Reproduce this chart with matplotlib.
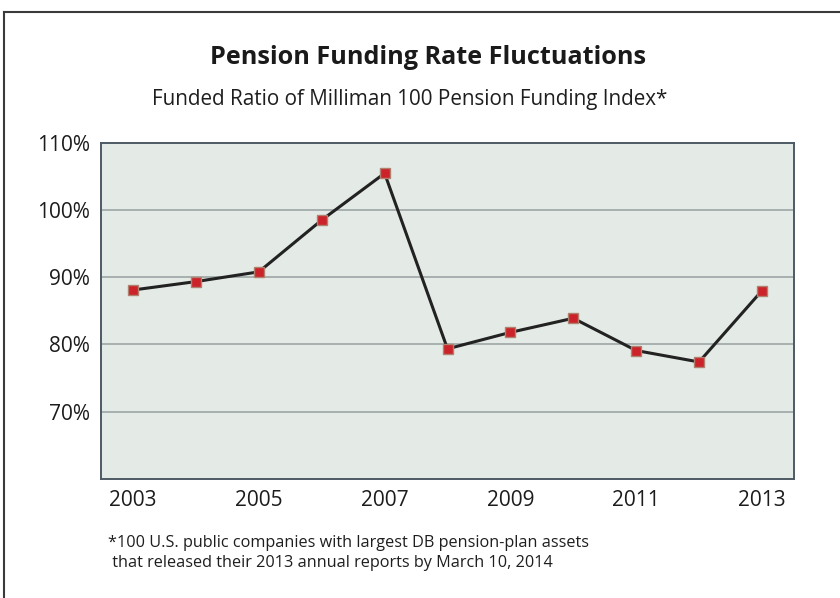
import matplotlib
matplotlib.use("Agg")
import matplotlib.pyplot as plt
from matplotlib.lines import Line2D

plt.rcParams['font.family'] = ['Open Sans', 'DejaVu Sans']

years = [2003, 2004, 2005, 2006, 2007, 2008, 2009, 2010, 2011, 2012, 2013]
funded_ratio = [88.1, 89.35, 90.8, 98.5, 105.45, 79.35, 81.8, 83.9, 79.1, 77.4, 88.0]
xtick_years = [2003, 2005, 2007, 2009, 2011, 2013]
ytick_vals = [70, 80, 90, 100, 110]
title = "Pension Funding Rate Fluctuations"
subtitle = "Funded Ratio of Milliman 100 Pension Funding Index*"
footnote = ("*100 U.S. public companies with largest DB pension-plan assets\n"
            " that released their 2013 annual reports by March 10, 2014")

fig = plt.figure(figsize=(8.4, 5.98), dpi=100)
fig.patch.set_facecolor('white')

# frame lines (top and left)
fig.add_artist(Line2D([4/840, 1.0], [1 - 12/598, 1 - 12/598], color='#3a3a3a', lw=1.5,
                      transform=fig.transFigure))
fig.add_artist(Line2D([4/840, 4/840], [0.0, 1 - 12/598], color='#3a3a3a', lw=1.5,
                      transform=fig.transFigure))

ax = fig.add_axes([101/840, 119/598, 693/840, 336.3/598])
ax.set_facecolor('#e4ebe6')
ax.set_xlim(2002.49, 2013.51)
ax.set_ylim(60, 110)

for v in ytick_vals[:-1]:
    ax.axhline(v, color='#a3abab', lw=1.3, zorder=1)

ax.plot(years, funded_ratio, color='#222222', lw=2.2, zorder=3)
ax.plot(years, funded_ratio, ls='none', marker='s', markersize=6.8,
        markerfacecolor='#cc2229', markeredgecolor='#b08070', markeredgewidth=1.0, zorder=4)

ax.set_yticks(ytick_vals)
ax.set_yticklabels([f"{v}%" for v in ytick_vals])
ax.set_xticks(xtick_years)
ax.set_xticklabels([str(y) for y in xtick_years])
ax.tick_params(axis='both', length=0, labelsize=15, labelcolor='#1c1c1c')
ax.tick_params(axis='y', pad=8)
ax.tick_params(axis='x', pad=8)

for s in ax.spines.values():
    s.set_color('#4d5a64')
    s.set_linewidth(1.4)

fig.text(428/840, 1 - 57/598, title, ha='center', va='center', fontsize=18.2,
         fontweight='bold', color='#1a1a1a')
fig.text(410/840, 1 - 100/598, subtitle, ha='center', va='center', fontsize=14.9,
         color='#1e1e1e')
fig.text(108/840, 1 - 553/598, footnote, ha='left', va='center', fontsize=11.7,
         color='#1e1e1e', linespacing=1.3)

fig.savefig("out.png", dpi=100, facecolor='white')
